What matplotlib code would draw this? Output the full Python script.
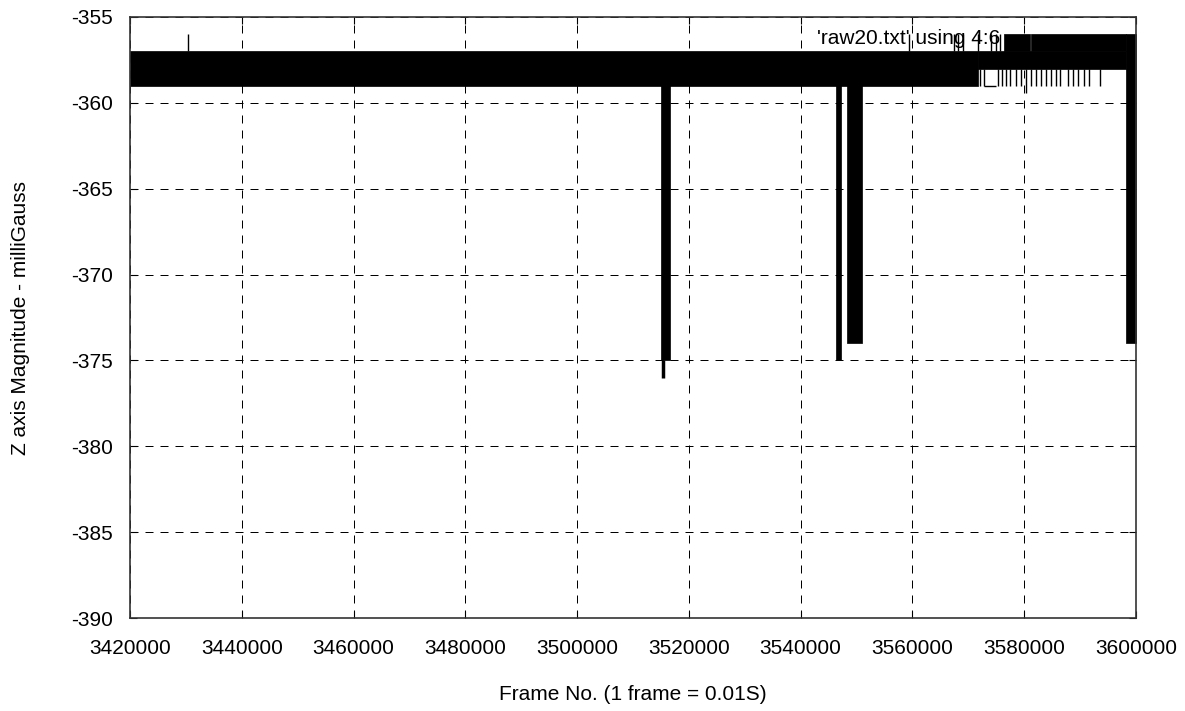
import matplotlib
matplotlib.use('Agg')
import matplotlib.pyplot as plt

plt.rcParams['font.family'] = ['Liberation Sans', 'DejaVu Sans']
plt.rcParams['font.size'] = 15

# dense part of the trace, drawn as solid bands (start, end, low, high)
band_start = [3420000, 3571700, 3576350, 3581150, 3598200]
band_end = [3571700, 3598300, 3580950, 3598300, 3600000]
band_low = [-359, -358, -357, -357, -374]
band_high = [-357, -357, -356, -356, -356]

# groups of samples that dip down (start, end, lowest value)
dip_start = [3515000, 3546270, 3548360]
dip_end = [3516550, 3547160, 3550930]
dip_low = [-375, -375, -374]

# single samples reaching up to -356
peak_x = [3430400, 3559300, 3567400, 3568100, 3569000, 3571700, 3574000, 3574900, 3575600]
peak_y = -356

# single samples dropping down to -359 at the right end
drop_x = [3572060, 3572780, 3575280, 3575990, 3576700, 3577430, 3578500, 3579400,
          3580300, 3581200, 3582100, 3583000, 3583900, 3584800, 3585700, 3586400,
          3587800, 3588700, 3589600, 3590700, 3591600, 3593500]
drop_y = [-359] * len(drop_x)
drop_y[8] = -359.4
flat_x = [3572780, 3574930]
flat_y = -359
deep_x = 3515400
deep_y = -376

x_ticks = list(range(3420000, 3600001, 20000))
y_ticks = list(range(-390, -354, 5))

fig = plt.figure(figsize=(11.85, 7.11), dpi=100)
ax = fig.add_axes([130 / 1185, 1 - 618 / 711, 1006 / 1185, 601 / 711])

for x0, x1, lo, hi in zip(band_start, band_end, band_low, band_high):
    ax.fill_between([x0, x1], [lo, lo], [hi, hi], color='black', lw=0.5, zorder=3)
for x0, x1, lo in zip(dip_start, dip_end, dip_low):
    ax.fill_between([x0, x1], [lo, lo], [-358, -358], color='black', lw=0.5, zorder=3)

ax.vlines(peak_x, -357, peak_y, color='black', lw=1, zorder=3)
ax.vlines(drop_x, -358, drop_y, color='black', lw=1, zorder=3)
ax.hlines(flat_y, flat_x[0], flat_x[1], color='black', lw=1, zorder=3)
ax.vlines(deep_x, -375, deep_y, color='black', lw=2.5, zorder=3)

ax.text(0.865, 0.965, "'raw20.txt' using 4:6", transform=ax.transAxes,
        ha='right', va='center', zorder=2)

ax.set_xlim(3420000, 3600000)
ax.set_ylim(-390, -355)
ax.set_xticks(x_ticks)
ax.set_yticks(y_ticks)
ax.set_xticklabels([str(t) for t in x_ticks])
ax.set_yticklabels([str(t) for t in y_ticks])
ax.tick_params(direction='in', top=True, right=True, length=5, width=0.8)
ax.tick_params(axis='x', pad=15)
ax.tick_params(axis='y', pad=12)
ax.grid(True, color='black', linestyle=(0, (8, 7)), linewidth=0.72, zorder=1)
ax.set_axisbelow(True)
for s in ax.spines.values():
    s.set_linewidth(1.2)
    s.set_color('#333333')
    s.set_zorder(4)

fig.text(21 / 1185, 1 - 318 / 711, 'Z axis Magnitude - milliGauss', rotation=90,
         ha='center', va='center')
fig.text(633 / 1185, 1 - 694 / 711, 'Frame No. (1 frame = 0.01S)',
         ha='center', va='center')

fig.savefig('out.png', dpi=100)
